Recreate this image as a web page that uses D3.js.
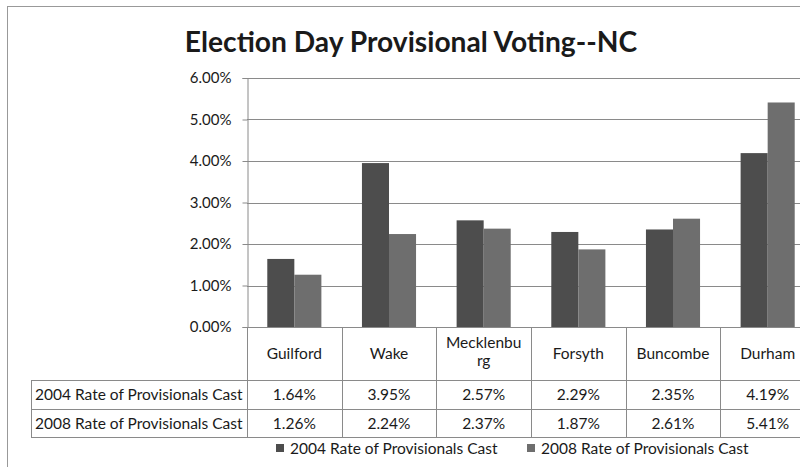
<!DOCTYPE html>
<html>
<head>
<meta charset="utf-8">
<script src="https://cdn.jsdelivr.net/npm/d3@7"></script>
<style>
  html, body { margin: 0; padding: 0; background: #fff; }
  svg { display: block; }
  text { font-family: Lato, "Open Sans", sans-serif; fill: #1a1a1a; }
</style>
</head>
<body>
<svg id="chart" width="800" height="467"></svg>
<script>
// County names (Mecklenburg wraps inside its narrow table cell)
const counties = ["Guilford", "Wake", "Mecklenburg", "Forsyth", "Buncombe", "Durham"];
const countyLines = [["Guilford"], ["Wake"], ["Mecklenbu", "rg"], ["Forsyth"], ["Buncombe"], ["Durham"]];
const seriesNames = ["2004 Rate of Provisionals Cast", "2008 Rate of Provisionals Cast"];
const rate2004 = [0.0164, 0.0395, 0.0257, 0.0229, 0.0235, 0.0419];
const rate2008 = [0.0126, 0.0224, 0.0237, 0.0187, 0.0261, 0.0541];
const yTicks = [0, 0.01, 0.02, 0.03, 0.04, 0.05, 0.06];
const title = "Election Day Provisional Voting--NC";

const svg = d3.select("#chart");
const colors = ["#4d4d4d", "#6e6e6e"];
const lineColor = "#8a8a8a";
const fontSize = "15.5px";
const pct = d3.format(".2%");

// plot area
const plotLeft = 247, plotRight = 815, plotTop = 78, plotBottom = 327;
const x = d3.scaleBand().domain(counties).range([plotLeft, plotRight]);
const xInner = d3.scaleBand().domain([0, 1]).range([0, x.bandwidth()])
  .paddingInner(0).paddingOuter(0.75);
const y = d3.scaleLinear().domain([0, 0.06]).range([plotBottom, plotTop]);

// outer chart frame
svg.append("rect").attr("x", 7.5).attr("y", 6.5).attr("width", 830).attr("height", 470)
  .attr("fill", "none").attr("stroke", "#999").attr("stroke-width", 1);

// title
svg.append("text").attr("x", 411).attr("y", 52).attr("text-anchor", "middle")
  .style("font-weight", "bold").style("font-size", "28.2px").text(title);

// gridlines
svg.append("g").selectAll("line").data(yTicks.slice(1)).join("line")
  .attr("x1", plotLeft).attr("x2", plotRight)
  .attr("y1", d => Math.round(y(d)) + 0.5).attr("y2", d => Math.round(y(d)) + 0.5)
  .attr("stroke", lineColor).attr("stroke-width", 1);

// y axis
const yAxis = svg.append("g").attr("transform", `translate(${plotLeft + 0.5},0)`)
  .call(d3.axisLeft(y).tickValues(yTicks).tickFormat(pct).tickSize(5).tickPadding(11));
yAxis.select(".domain").attr("stroke", lineColor);
yAxis.selectAll(".tick line").attr("stroke", lineColor);
yAxis.selectAll(".tick text").attr("font-family", null).style("font-size", "15px").attr("fill", "#1a1a1a");

// bars
const data = counties.map((c, i) => ({ county: c, values: [rate2004[i], rate2008[i]] }));
svg.append("g").selectAll("g").data(data).join("g")
  .attr("transform", d => `translate(${x(d.county)},0)`)
  .selectAll("rect").data(d => d.values.map((v, s) => ({ v, s }))).join("rect")
  .attr("x", d => xInner(d.s)).attr("width", xInner.bandwidth())
  .attr("y", d => y(d.v)).attr("height", d => y(0) - y(d.v))
  .attr("fill", d => colors[d.s]);

// data table under the axis
const rowTop = 380, rowH = 28.5, labelLeft = 31;
const table = svg.append("g").attr("stroke", lineColor).attr("stroke-width", 1);
table.append("line").attr("x1", plotLeft).attr("x2", plotRight).attr("y1", plotBottom + 0.5).attr("y2", plotBottom + 0.5);
[0, 1, 2].forEach(r => {
  const yy = Math.round(rowTop + r * rowH) + 0.5;
  table.append("line").attr("x1", labelLeft).attr("x2", plotRight).attr("y1", yy).attr("y2", yy);
});
const tableBottom = Math.round(rowTop + 2 * rowH) + 0.5;
table.append("line").attr("x1", labelLeft + 0.5).attr("x2", labelLeft + 0.5)
  .attr("y1", rowTop + 0.5).attr("y2", tableBottom);
table.selectAll("line.sep").data(counties).join("line").attr("class", "sep")
  .attr("x1", d => Math.round(x(d)) + 0.5).attr("x2", d => Math.round(x(d)) + 0.5)
  .attr("y1", plotBottom).attr("y2", tableBottom);

// county headers
svg.append("g").selectAll("text").data(counties).join("text")
  .attr("x", d => x(d) + x.bandwidth() / 2)
  .attr("text-anchor", "middle").style("font-size", fontSize)
  .each(function (d, i) {
    const lines = countyLines[i];
    const t = d3.select(this);
    const startY = lines.length === 1 ? 359 : 348;
    lines.forEach((ln, j) => t.append("tspan").attr("x", x(d) + x.bandwidth() / 2)
      .attr("y", startY + j * 18).text(ln));
  });

// table rows
[rate2004, rate2008].forEach((vals, r) => {
  const cy = rowTop + r * rowH + 20;
  svg.append("text").attr("x", 35).attr("y", cy).style("font-size", fontSize).text(seriesNames[r]);
  svg.append("g").selectAll("text").data(vals).join("text")
    .attr("x", (d, i) => x(counties[i]) + x.bandwidth() / 2).attr("y", cy)
    .attr("text-anchor", "middle").style("font-size", fontSize).text(d => pct(d));
});

// legend
const legend = svg.append("g");
const legendX = [276, 527];
seriesNames.forEach((name, s) => {
  legend.append("rect").attr("x", legendX[s]).attr("y", 444).attr("width", 8).attr("height", 8)
    .attr("fill", colors[s]);
  legend.append("text").attr("x", legendX[s] + 14).attr("y", 454)
    .style("font-size", fontSize).text(name);
});
</script>
</body>
</html>
